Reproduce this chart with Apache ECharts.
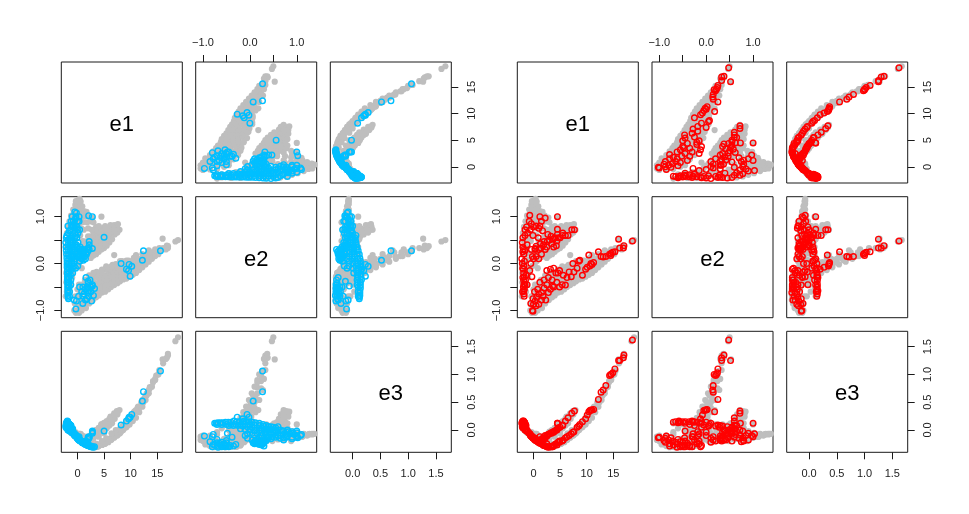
<!DOCTYPE html>
<html>
<head>
<meta charset="utf-8">
<script src="https://cdn.jsdelivr.net/npm/echarts@6/dist/echarts.min.js"></script>
<style>
html, body { margin: 0; padding: 0; background: #fff; }
#main { width: 969px; height: 514px; }
</style>
</head>
<body>
<div id="main"></div>
<script>
// every point is [e1, e2, e3]
let greyArmA = [
  [-0.6,-1.0,-0.1],[-0.3,-1.05,-0.12],[0,-1.0,-0.15],[0.3,-1.05,-0.18],[0.6,-0.95,-0.2],[-0.5,-0.85,-0.1],[0,-0.85,-0.15],[0.5,-0.85,-0.2],[1,-0.9,-0.23],[1.5,-0.88,-0.26],
  [-0.4,-0.7,-0.04],[0,-0.7,-0.08],[0.5,-0.72,-0.19],[1,-0.75,-0.22],[1.5,-0.75,-0.25],[2,-0.78,-0.28],[2.5,-0.72,-0.3],[0,-0.55,-0.16],[0.5,-0.58,-0.2],[1,-0.6,-0.23],
  [1.5,-0.62,-0.25],[2,-0.65,-0.27],[2.5,-0.62,-0.29],[3,-0.66,-0.31],[3.5,-0.6,-0.3],[0.3,-0.45,-0.19],[0.8,-0.45,-0.22],[1.3,-0.48,-0.24],[1.8,-0.5,-0.27],[2.3,-0.5,-0.29],
  [2.8,-0.52,-0.3],[3.3,-0.52,-0.31],[3.8,-0.55,-0.3],[4.3,-0.52,-0.27],[1.5,-0.35,-0.25],[2,-0.38,-0.28],[2.5,-0.38,-0.29],[3,-0.4,-0.3],[3.5,-0.42,-0.3],[4,-0.42,-0.28],
  [4.5,-0.45,-0.26],[5,-0.47,-0.25],[5.5,-0.42,-0.22],[2.5,-0.28,-0.29],[3,-0.3,-0.3],[3.5,-0.28,-0.3],[4,-0.32,-0.28],[4.5,-0.33,-0.26],[5,-0.36,-0.25],[5.5,-0.35,-0.21],
  [6,-0.38,-0.18],[6.5,-0.32,-0.15],[7,-0.3,-0.1],[3.8,-0.2,-0.28],[4.3,-0.22,-0.26],[4.8,-0.24,-0.24],[5.3,-0.25,-0.22],[5.8,-0.25,-0.18],[6.3,-0.24,-0.15],[6.8,-0.2,-0.12],
  [7.3,-0.25,-0.08],[7.8,-0.22,-0.04],[8.3,-0.2,0.02],[5.2,-0.12,-0.22],[5.7,-0.15,-0.19],[6.2,-0.13,-0.15],[6.7,-0.12,-0.11],[7.2,-0.12,-0.07],[7.7,-0.1,-0.03],[8.2,-0.12,0.02],
  [8.7,-0.13,0.08],[9.2,-0.15,0.13],[9.7,-0.12,0.2],[6.6,-0.03,-0.12],[7.2,-0.03,-0.07],[7.8,-0.02,-0.02],[8.4,-0.03,0.04],[9,-0.04,0.1],[9.6,-0.03,0.19],[10.2,-0.05,0.27],
  [8.4,0.05,0.07],[9.2,0.06,0.15],[10,0.03,0.24],[10.8,0.02,0.34],[11.4,0,0.42],[10.6,0.12,0.32],[11.3,0.1,0.4],[12,0.1,0.5],[12.6,0.12,0.58],[12.2,0.2,0.54],
  [13,0.16,0.66],[13.6,0.15,0.77],[14.2,0.16,0.86],[13.4,0.28,0.72],[14.2,0.24,0.88],[14.8,0.24,0.98],[15.4,0.26,1.06],[16.1,0.33,1.2],[16.8,0.38,1.3],[17,0.33,1.34],
  [16,0.53,1.27],[18.4,0.47,1.6],[18.9,0.5,1.67],[17,0.37,1.37],[16.6,0.3,1.28],[6.9,0.18,-0.08],[0.8,-0.1,-0.2]
];
let greyArmALow = [
  [0.8,-1.0,-0.2],[1.6,-0.95,-0.26],[2.2,-0.85,-0.29],[2.9,-0.78,-0.31],[3.5,-0.72,-0.3],[4,-0.68,-0.29],[4.6,-0.62,-0.27],[5.2,-0.6,-0.25],[5.8,-0.55,-0.22],[6.3,-0.5,-0.18],
  [6.9,-0.46,-0.14],[7.5,-0.42,-0.1],[8,-0.38,-0.06],[8.6,-0.34,0],[9.2,-0.32,0.05],[9.8,-0.28,0.1],[10.4,-0.24,0.16],[11,-0.2,0.22],[11.6,-0.14,0.32],[12.2,-0.08,0.42],
  [12.8,-0.02,0.54],[13.4,0.04,0.66],[14,0.1,0.78],[14.6,0.16,0.9],[15.2,0.2,1.0],[4.6,-0.52,-0.27],[5.2,-0.5,-0.24],[5.8,-0.46,-0.21],[6.4,-0.42,-0.17],[7,-0.38,-0.12],
  [7.6,-0.33,-0.08],[8.2,-0.3,-0.03],[8.8,-0.24,0.03],[9.4,-0.22,0.08],[10,-0.17,0.16],[10.6,-0.14,0.24],[11.2,-0.08,0.33],[11.8,-0.04,0.42],[12.4,0.02,0.5],[13,0.07,0.62],
  [11,0.18,0.36],[9.6,0.06,0.14],[8.8,0.02,0.08],[8,0.05,0.02],[7.2,-0.01,0],[6.4,-0.06,-0.06],[5.4,-0.06,-0.15],[4.6,-0.13,-0.2],[3.6,-0.18,-0.25],[3,-0.2,-0.27],
  [13.6,0.24,0.75],[14.6,0.3,0.92],[15.4,0.33,1.08],[2.2,-0.25,-0.27],[1.4,-0.35,-0.22]
];
let greyArmB = [
  [-1,-0.2,-0.05],[-0.6,-0.1,-0.1],[-0.2,-0.05,-0.13],[0.2,-0.02,-0.17],[0.6,0.05,-0.2],[-0.5,0.1,-0.1],[0,0.1,-0.15],[0.5,0.12,-0.18],[1,0.1,-0.21],[1.5,0.14,-0.2],
  [0,0.22,-0.15],[0.5,0.24,-0.18],[1,0.22,-0.2],[1.5,0.22,-0.19],[2,0.22,-0.17],[2.5,0.25,-0.13],[3,0.3,-0.1],[0.5,0.35,-0.18],[1,0.36,-0.2],[1.5,0.34,-0.19],
  [2,0.34,-0.16],[2.5,0.35,-0.12],[3,0.38,-0.09],[3.5,0.36,-0.06],[4,0.38,-0.02],[1,0.48,-0.2],[1.5,0.47,-0.18],[2,0.46,-0.14],[2.5,0.46,-0.11],[3,0.46,-0.08],
  [3.5,0.47,-0.04],[4,0.47,-0.01],[4.5,0.46,0.02],[5,0.48,0.05],[2,0.58,-0.13],[2.5,0.58,-0.1],[3,0.57,-0.06],[3.5,0.58,-0.03],[4,0.58,0],[4.5,0.57,0.04],
  [5,0.57,0.07],[5.5,0.55,0.1],[6,0.58,0.14],[3,0.68,-0.03],[3.5,0.67,0],[4,0.68,0.03],[4.5,0.68,0.07],[5,0.67,0.1],[5.5,0.66,0.13],[6,0.65,0.17],
  [6.5,0.7,0.22],[7,0.74,0.27],[4.5,0.75,0.1],[5,0.76,0.13],[5.5,0.74,0.16],[6,0.72,0.2],[6.5,0.72,0.24],[7,0.72,0.29],[7.5,0.72,0.33],[7.9,0.72,0.36],
  [6.2,0.82,0.24],[6.9,0.82,0.3],[7.4,0.78,0.34],[4.5,1.0,0.1],[3,0.3,-0.16],[4,0.32,-0.12],[5,0.45,-0.06],
  [3,0.17,-0.12],[3.5,0.2,-0.1],[4,0.25,-0.07],[4.5,0.3,-0.04],[5,0.33,-0.01],[5.5,0.38,0.03],[6,0.45,0.08],[6.5,0.52,0.12],[7,0.62,0.2],[7.5,0.66,0.28],
  [4.5,0.38,0],[5.2,0.42,0.04],[5.8,0.5,0.1],[6.4,0.68,0.18],[6.9,0.72,0.26],[7.6,0.84,0.33],[3.5,0.78,0],[4,0.8,0.04],[5.2,0.8,0.12],[2.5,0.12,-0.17],[3.5,0.28,-0.09]
];
let greyArmC = [
  [-2.2,-0.7,0.12],[-2,-0.6,0.13],[-1.8,-0.5,0.1],[-2.1,-0.4,0.13],[-1.8,-0.3,0.1],[-2.1,-0.2,0.12],[-1.7,-0.1,0.08],[-1.4,-0.6,0.03],[-1.2,-0.45,0],[-1,-0.3,-0.03],
  [-1.4,-0.2,0.03],[-1,-0.1,-0.05],[-2,0,0.12],[-1.5,0.05,0.05],[-1,0.08,-0.03],[-2,0.2,0.1],[-1.5,0.2,0.03],[-1,0.22,-0.04],[-2.1,0.35,0.1],[-1.6,0.35,0.03],
  [-1.1,0.36,-0.04],[-2,0.5,0.07],[-1.5,0.48,0],[-1,0.5,-0.05],[-0.5,0.48,-0.1],[-2,0.65,0.02],[-1.5,0.62,-0.02],[-1,0.65,-0.06],[-0.5,0.62,-0.1],[0,0.62,-0.13],
  [0.5,0.6,-0.17],[-1.8,0.78,0.02],[-1.3,0.78,-0.03],[-0.8,0.78,-0.07],[-0.3,0.78,-0.1],[0.2,0.78,-0.12],[0.7,0.75,-0.15],[1.2,0.72,-0.18],[2,0.75,-0.14],[2.7,0.72,-0.1],
  [-1.5,0.9,-0.02],[-1,0.92,-0.05],[-0.5,0.9,-0.08],[0,0.92,-0.1],[0.5,0.9,-0.12],[1,0.88,-0.14],[-1.2,1.02,-0.05],[-0.7,1.04,-0.07],[-0.2,1.04,-0.08],[0.3,1.02,-0.1],
  [0.8,1.0,-0.12],[1.3,1.0,-0.14],[2.1,1.02,-0.12],[2.8,0.98,-0.1],[-0.8,1.15,-0.07],[-0.3,1.15,-0.08],[0.2,1.15,-0.08],[0.7,1.14,-0.1],[1.2,1.12,-0.12],[-0.4,1.25,-0.08],
  [0,1.27,-0.07],[0.5,1.26,-0.08],[0.9,1.22,-0.1],[0.2,1.35,-0.07],[0.6,1.32,-0.07],[1.8,0.88,-0.2],[2.4,0.9,-0.15],[3,0.88,-0.1],[1.7,1.1,-0.12],[-0.3,1.33,-0.08],
  [0.9,1.1,-0.12],[0.4,1.38,-0.07]
];
let blueSparse = [
  [15.6,0.27,1.06],[12.4,0.27,0.69],[12.2,0.07,0.52],[10.2,-0.06,0.28],[9.7,-0.02,0.23],[9.9,-0.27,0.23],[9.2,-0.12,0.16],[9.6,-0.15,0.2],[8.2,0,0.09],[5,0.56,-0.02],
  [-0.3,-0.97,-0.11],[-0.6,-0.78,-0.08],[-0.2,-0.8,-0.12],[1,-0.85,-0.21],[1,-0.7,-0.23],[0.4,-0.5,-0.19],[1,-0.5,-0.23],[2,-0.38,-0.13],[1.5,-0.55,-0.25],[2,-0.62,-0.28],
  [2.5,-0.5,-0.29],[3.2,-0.53,-0.3],[2.8,-0.48,-0.06],[0.8,-0.6,-0.22],[1.2,-0.65,-0.24],[0.2,-0.7,-0.17],[1.8,-0.5,-0.27],[2.2,-0.55,-0.28],[1.5,-0.78,-0.26],
  [2.1,1.02,-0.14],[2.8,1.0,-0.02],[-0.5,1.1,-0.08],[-0.3,1.0,-0.1],[-1,1.0,-0.05],[0,0.9,-0.13],[0.3,0.9,-0.16],[-1.2,0.9,-0.03],[-1.8,0.8,0],[-0.4,0.8,-0.1],
  [0,0.72,-0.14],[-0.5,0.65,-0.1],[-1.5,0.7,-0.02],[-0.9,0.6,-0.06],[-0.1,0.55,-0.13],[2.2,0.47,-0.12],[2.2,0.4,-0.14],[1.6,0.22,-0.2],[2.8,0.32,-0.04],[2,0.33,-0.17]
];
let blueTail = [
  [-1.7,0.65,0],[-1.3,0.72,-0.02],[-1,0.78,-0.04],[-0.6,0.85,-0.07],[-0.4,0.95,-0.08],[-0.2,1.08,-0.1],[0.3,1,-0.12],[-0.8,0.9,-0.06],[-1.1,0.82,-0.03],[-0.1,0.78,-0.13],
  [0.1,0.65,-0.15],[0.4,0.72,-0.18],[-0.5,0.75,-0.09]
];
let blueColumn = [
  [-2.2,0.45,0.06],[-2.15,0.35,0.08],[-2.1,0.28,0.1],[-2.05,0.2,0.12],[-2,0.12,0.13],[-1.95,0.05,0.14],[-1.95,-0.02,0.15],[-1.95,-0.08,0.15],[-1.9,-0.15,0.15],[-1.9,-0.22,0.15],
  [-1.9,-0.28,0.15],[-1.9,-0.34,0.16],[-1.85,-0.4,0.14],[-1.85,-0.46,0.14],[-1.85,-0.52,0.14],[-1.8,-0.58,0.13],[-1.8,-0.63,0.13],[-1.8,-0.68,0.13],[-1.75,-0.72,0.12],[-1.7,-0.75,0.12],
  [-2.1,0.55,0.04],[-2,0.6,0.06],[-1.8,0.5,0.05],[-1.75,0.4,0.06],[-1.7,0.3,0.07],[-1.65,0.2,0.08],[-1.65,0.1,0.09],[-1.65,0,0.1],[-1.6,-0.1,0.1],[-1.6,-0.2,0.1],
  [-1.6,-0.3,0.1],[-1.55,-0.4,0.1],[-1.55,-0.5,0.1],[-1.5,-0.6,0.1],[-1.5,-0.7,0.1],[-1.45,0.55,0],[-1.4,0.45,0.01],[-1.35,0.35,0.02],[-1.35,0.25,0.03],[-1.3,0.15,0.04],
  [-1.3,0.05,0.05],[-1.3,-0.05,0.06],[-1.3,-0.15,0.07],[-1.3,-0.25,0.08],[-1.25,-0.35,0.08],[-1.25,-0.45,0.08],[-1.2,0.5,0],[-1.1,0.4,0],[-1.05,0.3,-0.01],[-1,0.2,-0.01],
  [-1,0.1,-0.01],[-1,0,0],[-0.95,-0.1,0.01],[-0.9,-0.2,0.02],[-0.85,0.45,-0.05],[-0.8,0.35,-0.05],[-0.75,0.25,-0.05],[-0.7,0.15,-0.06],[-0.65,0.05,-0.06],[-0.6,-0.05,-0.07],
  [-0.55,0.55,-0.09],[-0.5,0.4,-0.09],[-0.45,0.25,-0.1],[-0.4,0.1,-0.1],[-0.35,-0.1,-0.1]
];
let blueArc = [
  [-0.3,0.6,-0.11],[-0.2,0.4,-0.12],[-0.1,0.2,-0.13],[0,0.35,-0.15],[0,0.25,-0.15],[0.05,-0.05,-0.15],[0.1,0.45,-0.16],[0.2,0.15,-0.17],[0.3,0.3,-0.18],[0.4,0.05,-0.18],
  [0.5,0.35,-0.19],[0.5,0.2,-0.19],[0.6,0.12,-0.2],[0.7,0.28,-0.2],[0.8,0.3,-0.21],[0.8,0.1,-0.21],[0.9,0.22,-0.22],[1,0.17,-0.23],[1.1,0.07,-0.23],[1.15,0.3,-0.23],
  [1.2,0.22,-0.24],[1.3,0.15,-0.24],[1.4,0.28,-0.25],[1.5,0.1,-0.25],[1.6,-0.3,-0.26],[1.7,0.2,-0.26],[1.8,-0.75,-0.27],[1.9,0.25,-0.27],[2,-0.42,-0.28],[2.1,-0.7,-0.28],
  [2.2,0.3,-0.29],[2.35,-0.35,-0.29],[2.5,-0.6,-0.3],[2.65,-0.8,-0.3],[2.8,-0.45,-0.3],[3,-0.68,-0.31]
];
let redArms = [
  [18.6,0.48,1.62],[17,0.38,1.35],[16.9,0.33,1.3],[16.2,0.33,1.25],[16,0.52,1.25],[15.3,0.25,1.1],[14.9,0.24,1.03],[14.6,0.22,1],[14.3,0.2,0.98],[14.5,0.17,1],
  [13.6,0.15,0.8],[13.1,0.14,0.72],[12.7,0.15,0.68],[12.2,0.25,0.55],[11.3,0.02,0.37],[11,-0.02,0.36],[10.8,0,0.36],[10.6,-0.05,0.35],[10.4,0.18,0.33],[10.1,-0.08,0.27],
  [9.8,-0.12,0.2],[9.2,-0.25,0.15],[8.7,0.07,0.1],[8.5,0.05,0.07],[8.2,-0.1,0.05],[7.6,-0.18,-0.03],[7.4,0,-0.04],[7.1,-0.28,-0.07],[6.7,-0.18,-0.1],[6.3,-0.3,-0.12],
  [6,-0.46,-0.14],[5.6,-0.25,-0.18],[5.4,-0.45,-0.2],[4.9,-0.5,-0.22],[4.4,-0.4,-0.27],[4.9,-0.15,-0.2],[4.6,-0.2,-0.22],[4.2,-0.2,-0.25],[3.8,-0.5,-0.28],[3.2,-0.55,-0.3],
  [2.5,-0.45,-0.3],[2,-0.52,-0.28],[1.5,-0.62,-0.25],[2.3,-0.78,-0.29],[1,-0.65,-0.22],[0.6,-0.72,-0.2],[1,-0.87,-0.22],[0,-0.87,-0.15],[-0.2,-1,-0.13],[-0.1,-1.02,-0.14],
  [1.5,-0.78,-0.25],[0.3,-0.8,-0.18],[7.7,0.72,0.34],[7.2,0.72,0.3],[6.5,0.6,0.22],[6,0.6,0.16],[5.5,0.65,0.08],[5.5,0.6,0.09],[4.5,0.73,0.12],[5,0.55,0.05],
  [4.7,0.55,0.04],[4.4,0.48,0],[4.5,0.62,0.02],[4,0.55,-0.02],[3.7,0.52,-0.03],[3,0.5,-0.07],[2.6,0.47,-0.1],[2,0.47,-0.14],[1.9,0.4,-0.16],[1.3,0.42,-0.18],
  [1,0.3,-0.18],[0.5,0.37,-0.18],[0.3,0.3,-0.17],[2.5,0.35,-0.11],[3.8,0.35,-0.04],[4.3,0.38,0],[1.5,0.2,-0.2],[1,0.1,-0.22],[0.5,0.15,-0.18],[0,0.1,-0.15],
  [-0.2,0.15,-0.12],[0.3,0.32,-0.15],[4.5,1,0.12],[2.5,-0.15,-0.25],[3.2,-0.12,-0.3],[3.8,-0.1,-0.28],[0.8,-0.55,-0.21],[0.2,-0.6,-0.17],[-0.1,-0.75,-0.14],[-0.5,-0.85,-0.11],
  [0.5,-0.9,-0.19],[2.8,-0.62,-0.31],[3.6,-0.48,-0.3],[1.8,-0.7,-0.27],[2.8,-0.3,-0.3],[3.5,-0.35,-0.3],[2,-0.35,-0.28],[1.2,-0.4,-0.24]
];
let redColumn = [
  [-0.7,1.03,-0.07],[1.2,1,-0.12],[1.5,0.9,-0.18],[2.2,0.97,-0.1],[-0.8,0.9,-0.06],[-0.4,0.85,-0.1],[0,0.78,-0.14],[0.5,0.8,-0.19],[1,0.75,-0.21],[-1.3,0.78,-0.02],
  [-1.6,0.72,0],[-0.6,0.72,-0.09],[-0.1,0.6,-0.13],[1.2,0.8,-0.2],[-1.1,0.65,-0.03],[-2,0.55,0.04],[-2.1,0.45,0.06],[-2,0.35,0.07],[-1.9,0.3,0.08],[-2,0.25,0.09],
  [-1.8,0.2,0.07],[-1.6,0.28,0.05],[-1.7,0.05,0.07],[-1.8,-0.05,0.09],[-1.9,-0.12,0.12],[-1.85,-0.2,0.14],[-1.75,-0.28,0.14],[-1.85,-0.36,0.15],[-1.8,-0.44,0.15],[-1.9,-0.5,0.15],
  [-1.85,-0.58,0.16],[-1.8,-0.65,0.15],[-1.75,-0.7,0.14],[-0.3,-0.28,-0.12],[-2.2,0.1,0.12],[-2.1,0,0.14],[-2.05,-0.1,0.15],[-2,-0.3,0.16],[-2.05,-0.6,0.13],[-1.7,-0.55,0.14],
  [-1.6,-0.45,0.12],[-1.5,-0.35,0.1],[-1.4,-0.25,0.08],[-1.6,0.6,0.02],[-1.2,0.4,0],[-0.5,0,-0.1],[-1.2,-0.45,-0.02],[-0.7,-0.15,-0.07],[-0.4,0.3,-0.11],[0.9,0.55,-0.2],
  [1.7,0.7,-0.15],[2.7,0.62,-0.08],[3.3,0.58,-0.05],[3.4,0.42,-0.06],[2.2,0.3,-0.15],[1.4,0.33,-0.2]
];
let greyPoints = greyArmA.concat(greyArmALow, greyArmB, greyArmC);
let blueCells = blueSparse.concat(blueTail, blueColumn, blueArc);
let redCells = redArms.concat(redColumn);

// tick positions and labels on the R axes
let e1Ticks = [0, 5, 10, 15];
let e2Ticks = [-1, -0.5, 0, 0.5, 1];
let e2Labels = [-1, 0, 1];
let e3Ticks = [0, 0.5, 1, 1.5];
let varNames = ['e1', 'e2', 'e3'];
let varRange = [[-3.04, 19.7], [-1.155, 1.425], [-0.402, 1.777]];
let varTicks = [e1Ticks, e2Ticks, e3Ticks];
let varLabels = [e1Ticks, e2Labels, e3Ticks];
let varDigits = [0, 1, 1];

let matrixLefts = [[61.3, 195.7, 330.3], [517.3, 652, 786.7]];
let rowTops = [62, 196.7, 331.3];
let panelSize = 121;
let inkColor = '#1a1a1a';
let labelMargin = { top: 14, bottom: 16, left: 15, right: 15 };

function makeAxis(v, pos, gridIndex, rotate) {
    let digits = varDigits[v];
    return {
        type: 'value',
        gridIndex: gridIndex,
        position: pos || (rotate ? 'left' : 'bottom'),
        min: varRange[v][0],
        max: varRange[v][1],
        scale: true,
        splitLine: { show: false },
        axisLine: { show: false, onZero: false },
        axisTick: pos ? { show: true, length: 7, customValues: varTicks[v], lineStyle: { color: inkColor, width: 1 } } : { show: false },
        axisLabel: pos ? {
            show: true,
            rotate: rotate ? 90 : 0,
            margin: labelMargin[pos],
            color: '#222',
            fontSize: 11,
            fontFamily: 'Liberation Sans',
            customValues: varLabels[v],
            hideOverlap: false,
            showMinLabel: true,
            showMaxLabel: true,
            formatter: function (val) { return val.toFixed(digits).replace('-', '\u2212'); }
        } : { show: false }
    };
}

// which outer side of each panel carries an axis, as in R's pairs()
function sideX(r, c) {
    if (c === 1 && r === 0) return 'top';
    if (c !== 1 && r === 2) return 'bottom';
    return null;
}
function sideY(r, c) {
    if (r === 1 && c === 0) return 'left';
    if (r !== 1 && c === 2) return 'right';
    return null;
}

let grids = [], xAxes = [], yAxes = [], series = [], titles = [];
function addMatrix(m, cells, cellColor) {
    for (let r = 0; r < 3; r++) {
        for (let c = 0; c < 3; c++) {
            let left = matrixLefts[m][c], top = rowTops[r];
            let g = grids.length;
            grids.push({ show: true, left: left, top: top, width: panelSize, height: panelSize, borderColor: inkColor, borderWidth: 1, backgroundColor: 'transparent' });
            xAxes.push(makeAxis(c, sideX(r, c), g, false));
            yAxes.push(makeAxis(r, sideY(r, c), g, true));
            if (r === c) {
                titles.push({ text: varNames[r], left: left + panelSize / 2, top: top + panelSize / 2 + 2.5, textAlign: 'center', textVerticalAlign: 'middle', padding: 0,
                    textStyle: { fontSize: 22, fontWeight: 'normal', color: '#000', fontFamily: 'Liberation Sans' } });
                continue;
            }
            series.push({
                type: 'scatter', xAxisIndex: g, yAxisIndex: g, symbol: 'circle', symbolSize: 6.2, silent: true,
                itemStyle: { color: '#bebebe', opacity: 1 },
                data: greyPoints.map(p => [p[c], p[r]])
            });
            series.push({
                type: 'scatter', xAxisIndex: g, yAxisIndex: g, symbol: 'circle', symbolSize: 5.6, silent: true, z: 3,
                itemStyle: { color: 'transparent', borderColor: cellColor, borderWidth: 1.4, opacity: 1 },
                data: cells.map(p => [p[c], p[r]])
            });
        }
    }
}
addMatrix(0, blueCells, '#00bfff');
addMatrix(1, redCells, '#ff0000');

let chart = echarts.init(document.getElementById('main'));
chart.setOption({
    animation: false,
    backgroundColor: '#fff',
    title: titles,
    grid: grids,
    xAxis: xAxes,
    yAxis: yAxes,
    series: series
});
</script>
</body>
</html>
